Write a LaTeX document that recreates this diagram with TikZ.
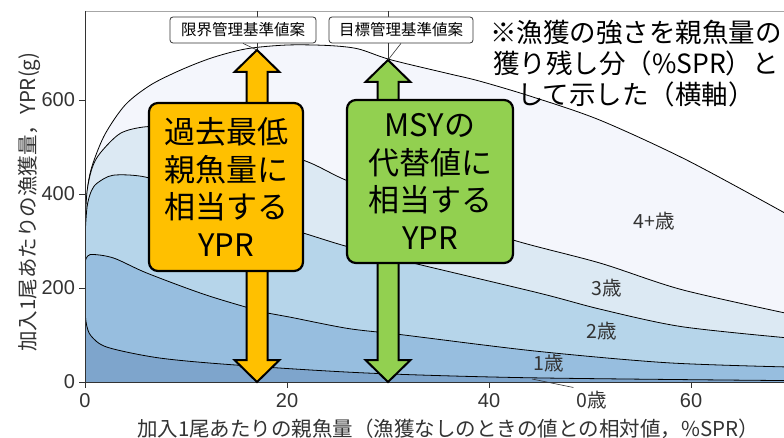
\documentclass[tikz,border=0pt]{standalone}
\usepackage{fontspec}
\setmainfont{Noto Sans CJK JP}
\newfontfamily\tickfont{Liberation Sans}
\definecolor{bandfour}{HTML}{F4F6FC}
\definecolor{bandthree}{HTML}{DCE9F3}
\definecolor{bandtwo}{HTML}{B6D5EA}
\definecolor{bandone}{HTML}{97BEDF}
\definecolor{bandzero}{HTML}{7EA5CC}
\definecolor{limorange}{HTML}{FFC000}
\definecolor{msygreen}{HTML}{92D050}
\definecolor{axgray}{HTML}{333333}
\tikzset{
  yprbox/.style={draw=black, line width=2.2pt, rounded corners=9pt, align=center, inner sep=0pt, font=\fontsize{31}{37.5}\selectfont},
  reflabel/.style={draw=axgray, line width=0.8pt, rounded corners=3pt, fill=white, inner sep=0pt, minimum height=26pt, font=\fontsize{15.5}{16}\selectfont},
  agelabel/.style={font=\fontsize{19.5}{20}\selectfont, text=axgray},
  axtext/.style={font=\fontsize{20.5}{21}\selectfont, text=axgray},
  ticklab/.style={font=\tickfont\fontsize{20}{21}\selectfont, text=axgray},
  curveline/.style={black, line width=0.8pt},
  arrowedge/.style={draw=black, line width=2pt, line join=miter},
  guide/.style={axgray, line width=0.6pt}
}
\newcommand\agefill[2]{%
  \fill[#1] plot[smooth,tension=.5] coordinates {#2} -- (69.5,0) -- (0,0) -- cycle;
  \draw[curveline] plot[smooth,tension=.5] coordinates {#2};}
\newcommand\tallarrow[4]{%
  \filldraw[fill=#4, arrowedge] (#1,#2) -- (#1+22.5,#2+22) -- (#1+10.5,#2+22) -- (#1+10.5,#3-22)
    -- (#1+22.5,#3-22) -- (#1,#3) -- (#1-22.5,#3-22) -- (#1-10.5,#3-22) -- (#1-10.5,#2+22)
    -- (#1-22.5,#2+22) -- cycle;}

\begin{document}
\begin{tikzpicture}[x=1pt,y=-1pt]
  \useasboundingbox (0,0) rectangle (784,438);
  \begin{scope}[shift={(85,382)}, x=10.1pt, y=0.47pt]
    \begin{scope}
      \clip (0,0) rectangle (69.2,790);
      \agefill{bandfour}{(0,340) (0.3,420) (0.8,466) (2,528) (4,590) (6.5,632) (9.5,664) (12.6,690) (16,709) (20,717) (24,716) (27,709) (30.2,686) (35.8,657) (39.1,640) (44.4,606) (51,557) (59.6,472) (69.5,357)}
      \agefill{bandthree}{(0,330) (0.2,405) (0.7,455) (1.5,487) (3.5,529) (6,543) (9,541) (14,518) (21.6,472) (26,428) (34,364) (42.4,302) (51,253) (59,197) (69.5,146)}
      \agefill{bandtwo}{(0,310) (0.2,372) (0.6,405) (1.2,423) (2.8,440) (6,436) (10,405) (15,360) (21.6,317) (26,288) (32.5,253) (45,189) (51,155) (59,118) (69.5,94)}
      \agefill{bandone}{(0,255) (0.5,271) (2.8,264) (6.1,232) (12,185) (18,147) (20.3,138) (26,114) (31.2,101) (44.5,66) (57.6,41) (69.5,32)}
      \agefill{bandzero}{(0,150) (0.15,122) (0.6,98) (2.2,74) (7.4,51) (15,36) (28,19) (44,9) (69.5,3)}
    \end{scope}
    \foreach \v in {0,200,400,600} {
      \draw[axgray, line width=0.8pt] (0,\v) -- (-0.6,\v);
      \node[ticklab, anchor=east] at (-0.65,\v) {\v};
    }
    \foreach \u in {0,20,40,60} {
      \draw[axgray, line width=0.8pt] (\u,0) -- (\u,-13);
      \node[ticklab] at (\u,-40) {\u};
    }
  \end{scope}
  \draw[gray!70, line width=0.8pt] (85,11) -- (784,11);
  \draw[axgray, line width=1pt] (85,11) -- (85,382) -- (784,382);

  \node[agelabel] (agefour) at (654,221) {4+歳};
  \node[agelabel] (agethree) at (607,288) {3歳};
  \node[agelabel] (agetwo) at (602,331) {2歳};
  \node[agelabel] (ageone) at (549,363) {1歳};
  \node[agelabel] (agezero) at (592,400) {0歳};
  \coordinate (zeroband) at (532,379);
  \draw[guide] (agezero.north west) -- (zeroband);

  \coordinate (limaxis) at (257,11);
  \coordinate (limtip) at (257,50);
  \coordinate (msyaxis) at (388,11);
  \coordinate (msytip) at (388,60);
  \draw[guide] (limaxis) -- (limtip);
  \draw[guide] (msyaxis) -- (msytip);
  \tallarrow{257}{50}{382}{limorange}
  \tallarrow{388}{60}{382}{msygreen}

  \node[reflabel, minimum width=146pt] (limlab) at (243,30) {限界管理基準値案};
  \node[reflabel, minimum width=144pt] (tgtlab) at (401,30) {目標管理基準値案};
  \draw[guide] (limlab.south) -- (limtip);
  \draw[guide] (tgtlab.south) -- (msytip);

  \node[yprbox, fill=limorange, minimum width=154pt, minimum height=168pt] (limbox) at (226,187) {過去最低\\親魚量に\\相当する\\YPR};
  \node[yprbox, fill=msygreen, minimum width=166pt, minimum height=163pt] (msybox) at (430,181.5) {MSYの\\代替値に\\相当する\\YPR};

  \node[font=\fontsize{26.5}{31}\selectfont, align=center] (note) at (636,64) {※漁獲の強さを親魚量の\\獲り残し分（\%SPR）と\\して示した（横軸）};

  \node[axtext, rotate=90] (ytitle) at (29,202) {加入1尾あたりの漁獲量，YPR(g)};
  \node[axtext] (xtitle) at (448,429) {加入1尾あたりの親魚量（漁獲なしのときの値との相対値，\%SPR）};
\end{tikzpicture}
\end{document}
